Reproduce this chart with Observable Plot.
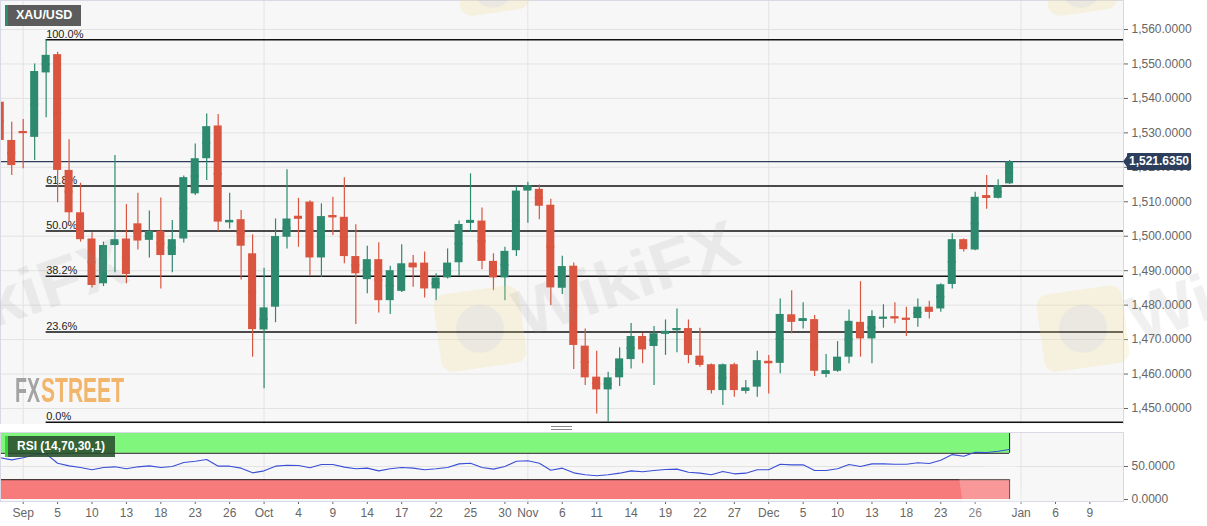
<!DOCTYPE html>
<html><head><meta charset="utf-8">
<script src="https://cdn.jsdelivr.net/npm/d3@7"></script>
<script src="https://cdn.jsdelivr.net/npm/@observablehq/plot@0.6"></script>
<style>
body{margin:0;background:#fff;font-family:"Liberation Sans",Arial,sans-serif;}
#wrap{position:relative;width:1207px;height:526px;overflow:hidden;background:#fff;}
#wrap > svg, #wrap > div{position:absolute;}
.lbl{color:#fff;font-weight:bold;font-size:12.5px;line-height:20px;white-space:nowrap;}
</style></head><body><div id="wrap"></div>
<script>
// ---------- DATA ----------
const startDate = "2019-08-29";
const endDate = "2019-12-31";
const open  = [1538.9,1527.8,1530.4,1528.7,1547.4,1552.7,1519.1,1506.8,1499.2,1486.2,1497.3,1499.2,1503.6,1498.8,1501.4,1494.4,1499.2,1512.3,1522.5,1532.0,1504.0,1504.8,1494.9,1472.8,1479.4,1499.7,1505.8,1509.9,1493.7,1506.0,1505.5,1494.1,1487.4,1493.2,1481.3,1484.0,1492.2,1492.2,1484.7,1487.9,1492.3,1503.8,1504.4,1492.7,1487.9,1495.8,1513.1,1513.6,1509.0,1484.9,1491.3,1468.1,1459.1,1455.4,1458.9,1464.2,1470.9,1468.0,1471.6,1472.8,1473.2,1465.2,1462.7,1455.2,1462.7,1455.0,1456.2,1463.7,1463.1,1477.2,1475.3,1475.8,1459.9,1460.8,1464.9,1475.0,1470.2,1476.1,1476.6,1476.2,1476.1,1479.4,1478.9,1486.0,1499.0,1496.0,1511.8,1511.0,1515.2];
const high  = [1550.5,1533.1,1533.9,1550.0,1557.0,1553.4,1528.0,1515.4,1501.0,1498.3,1523.4,1509.2,1512.5,1507.3,1511.1,1504.6,1517.5,1526.8,1535.5,1535.3,1512.5,1507.5,1500.4,1490.7,1505.0,1519.3,1511.0,1510.3,1509.4,1511.3,1517.0,1503.3,1497.1,1498.1,1491.3,1497.5,1494.4,1495.4,1489.1,1496.3,1504.4,1518.1,1508.2,1494.9,1496.8,1514.4,1515.7,1514.9,1510.7,1494.2,1492.2,1473.1,1466.6,1460.5,1467.6,1474.7,1471.8,1473.8,1475.7,1478.9,1475.7,1473.3,1462.9,1462.9,1463.1,1458.1,1466.6,1465.4,1481.8,1484.2,1480.7,1477.0,1465.7,1469.4,1478.6,1486.8,1478.4,1480.1,1480.7,1479.4,1481.8,1481.1,1486.2,1500.7,1499.2,1512.8,1517.6,1516.4,1522.0];
const low   = [1526.0,1517.6,1519.6,1522.0,1534.4,1509.7,1504.1,1498.3,1485.0,1485.4,1489.4,1486.2,1496.0,1493.7,1484.7,1489.4,1498.0,1511.8,1516.2,1501.4,1502.1,1487.3,1464.9,1455.7,1474.9,1496.3,1496.8,1488.6,1488.0,1500.2,1492.0,1474.4,1483.3,1477.7,1477.3,1483.7,1485.2,1482.1,1481.3,1487.6,1488.3,1501.2,1490.3,1484.2,1481.3,1494.1,1503.8,1504.8,1479.9,1483.1,1461.3,1456.7,1448.4,1446.0,1456.4,1461.5,1463.0,1456.7,1465.4,1466.2,1463.0,1462.0,1454.2,1450.9,1453.3,1454.2,1453.3,1454.2,1460.1,1471.7,1473.1,1459.3,1458.9,1460.5,1463.0,1464.9,1463.0,1473.3,1474.6,1470.9,1473.6,1476.0,1477.9,1484.7,1495.4,1495.8,1507.8,1510.8,1515.0];
const close = [1527.8,1520.5,1530.0,1547.8,1552.5,1519.1,1506.8,1499.0,1485.7,1497.3,1499.0,1488.9,1498.6,1501.4,1494.4,1499.0,1517.0,1522.5,1531.8,1504.1,1504.6,1497.1,1472.9,1479.2,1499.9,1505.0,1505.0,1493.7,1505.7,1505.5,1494.1,1489.1,1493.2,1481.3,1490.0,1492.0,1490.8,1484.7,1487.9,1492.2,1503.4,1504.6,1492.7,1487.9,1495.6,1513.1,1514.7,1508.7,1485.0,1491.2,1468.3,1458.9,1455.4,1458.9,1464.4,1470.9,1467.0,1471.7,1472.4,1473.2,1465.4,1462.5,1455.2,1462.7,1455.2,1456.0,1463.9,1463.1,1477.3,1475.0,1476.1,1460.8,1461.0,1464.9,1475.3,1470.2,1476.7,1476.5,1476.2,1475.8,1479.4,1477.9,1485.9,1499.0,1496.1,1511.3,1511.0,1514.7,1521.6];
const rsi   = [63.2,60.1,63.2,67.7,69.2,55,51,48.5,45,48.5,49.5,46.5,49.5,51,48.5,50,56,58,60.6,50.5,50.5,47.5,40.4,43.4,50.5,52,51.5,48,53,53,49,46.5,47.5,43.4,46.5,48.5,47.5,45,46.5,48.5,54,55,48.5,46,50,58,58.6,55,44.4,47.5,40.4,37.4,35.9,37.4,39.9,43.4,42,44,45.5,46,41.4,39.9,37.4,42.4,38.9,39.9,45,45,53.5,52.5,52.5,44,44,46.5,53,50,54,54,53.5,53.5,55.6,54.5,59.6,68,65.6,71.7,71.2,73.2,75.8];
const lastPrice = 1521.635;
const fibLow = 1446.0, fibHigh = 1557.0;
const fibPct = [0, 23.6, 38.2, 50, 61.8, 100];
const fibStartDate = "2019-09-04";
const priceTicks = [1450,1460,1470,1480,1490,1500,1510,1520,1530,1540,1550,1560];
const rsiTicks = [0, 50];
const rsiUpper = 70, rsiLower = 30;
const tickDates = ["2019-09-02","2019-09-05","2019-09-10","2019-09-13","2019-09-18","2019-09-23","2019-09-26","2019-10-01","2019-10-04","2019-10-09","2019-10-14","2019-10-17","2019-10-22","2019-10-25","2019-10-30","2019-11-01","2019-11-06","2019-11-11","2019-11-14","2019-11-19","2019-11-22","2019-11-27","2019-12-02","2019-12-05","2019-12-10","2019-12-13","2019-12-18","2019-12-23","2019-12-26","2020-01-01","2020-01-06","2020-01-09"];
const tickLabels = ["Sep","5","10","13","18","23","26","Oct","4","9","14","17","22","25","30","Nov","6","11","14","19","22","27","Dec","5","10","13","18","23","26","Jan","6","9"];
const monthLabels = ["Sep","Oct","Nov","Dec","Jan"];

// ---------- HELPERS ----------
function weekdaysBetween(a, b) {
  const out = []; let d = new Date(a + "T00:00:00Z"); const e = new Date(b + "T00:00:00Z");
  while (d <= e) { const w = d.getUTCDay(); if (w !== 0 && w !== 6) out.push(d.toISOString().slice(0,10)); d = new Date(d.getTime() + 864e5); }
  return out;
}
const tradingIndex = s => weekdaysBetween(startDate, s).length - 1;
const dates = weekdaysBetween(startDate, endDate);
const candles = dates.map((d, i) => ({date: d, i, open: open[i], high: high[i], low: low[i], close: close[i], rsi: rsi[i]}));
const GREEN = "#2d8a6f", RED = "#d9553f";
const col = d => d.close >= d.open ? GREEN : RED;
const tickIdx = tickDates.map(tradingIndex);
const labelByIdx = new Map(tickIdx.map((k, j) => [k, tickLabels[j]]));
const monthIdx = tickIdx.filter((k, j) => monthLabels.includes(tickLabels[j]));
const fibStart = tradingIndex(fibStartDate);
const fib = fibPct.map(p => ({price: fibLow + (fibHigh - fibLow) * p / 100, label: d3.format(".1f")(p) + "%"}));
const lastIdx = candles.length - 1;
const fmt = d3.format(",.4f");
const X0 = 0.021, X1 = 97.93;
const HW = 0.35;
const font = "Liberation Sans, Arial, sans-serif";

// ---------- MAIN PANE ----------
const main = Plot.plot({
  width: 1207, height: 424,
  marginLeft: 0, marginRight: 84, marginTop: 0, marginBottom: 0,
  x: {domain: [X0, X1], axis: null},
  y: {domain: [1450, 1560], range: [408, 29], axis: "right", ticks: priceTicks, tickFormat: fmt, tickSize: 4, tickPadding: 4, label: null},
  color: {type: "identity"},
  style: {background: "transparent", color: "#666", fontFamily: font, fontSize: "12px"},
  marks: [
    Plot.frame({fill: "#f7f7f7", stroke: null}),
    Plot.ruleY(priceTicks, {stroke: "#e3e3e3", clip: true}),
    Plot.ruleX(monthIdx, {stroke: "#e3e3e3", clip: true}),
    Plot.ruleY(fib, {x1: fibStart, x2: X1, y: "price", stroke: "#111", strokeWidth: 1.5}),
    Plot.text(fib, {x: fibStart, y: "price", text: "label", textAnchor: "start", lineAnchor: "bottom", dy: -2, fontSize: 11, fill: "#222"}),
    Plot.ruleY([lastPrice], {x1: X0, x2: X1, stroke: "#2c3e5a", strokeWidth: 1.2}),
    Plot.ruleX(candles, {x: "i", y1: "low", y2: "high", stroke: col, strokeWidth: 1.2, clip: true}),
    Plot.rect(candles, {x1: d => d.i - HW, x2: d => d.i + HW, y1: "open", y2: "close", fill: col, clip: true}),
    Plot.ruleY(candles, {x1: d => d.i - HW, x2: d => d.i + HW, y: d => (d.open + d.close) / 2, stroke: col, strokeWidth: 2, clip: true}),
    Plot.frame({stroke: "#d9d9e6"})
  ]
});
main.style.left = "0px"; main.style.top = "0px";

// ---------- RSI PANE ----------
const rsiPlot = Plot.plot({
  width: 1207, height: 100,
  marginLeft: 0, marginRight: 84, marginTop: 6, marginBottom: 25,
  x: {domain: [X0, X1], ticks: tickIdx, tickFormat: d => labelByIdx.get(d), tickSize: 3, tickPadding: 4, label: null},
  y: {domain: [0, 100], range: [73, 7], axis: "right", ticks: rsiTicks, tickFormat: fmt, tickSize: 4, tickPadding: 4, label: null},
  style: {background: "transparent", color: "#666", fontFamily: font, fontSize: "12px"},
  marks: [
    Plot.frame({fill: "#f7f7f7", stroke: null}),
    Plot.ruleY([50], {stroke: "#e3e3e3"}),
    Plot.ruleX(monthIdx, {stroke: "#e3e3e3", clip: true}),
    Plot.rect([0], {x1: X0, x2: lastIdx, y1: rsiUpper, y2: 100, fill: "#80f77c"}),
    Plot.rect([0], {x1: X0, x2: lastIdx, y1: 0, y2: rsiLower, fill: "#f87b7b"}),
    Plot.ruleY([rsiUpper, rsiLower], {x1: X0, x2: lastIdx, stroke: "#222"}),
    Plot.ruleX([lastIdx], {y1: rsiUpper, y2: 100, stroke: "#222"}),
    Plot.ruleX([lastIdx], {y1: 0, y2: rsiLower, stroke: "#222"}),
    Plot.line(candles, {x: "i", y: "rsi", stroke: "#3a4fd6", strokeWidth: 1.1, clip: true}),
    Plot.frame({stroke: "#d9d9e6"})
  ]
});
rsiPlot.style.left = "0px"; rsiPlot.style.top = "426px";

const wrap = document.getElementById("wrap");
wrap.appendChild(main);
wrap.appendChild(rsiPlot);

// ---------- OVERLAYS ----------
const ns = "http://www.w3.org/2000/svg";
const deco = document.createElementNS(ns, "svg");
deco.setAttribute("width", 1207); deco.setAttribute("height", 526);
deco.style.left = "0px"; deco.style.top = "0px"; deco.style.pointerEvents = "none";
deco.innerHTML = `
  <g opacity="0.22">
    <g transform="translate(432,296) rotate(-8)"><rect width="86" height="78" rx="12" fill="#f3dd8a"/><circle cx="43" cy="39" r="24" fill="#9a9a9a" opacity="0.6"/></g>
    <g transform="translate(1035,296) rotate(-8)"><rect width="86" height="78" rx="12" fill="#f3dd8a"/><circle cx="43" cy="39" r="24" fill="#9a9a9a" opacity="0.6"/></g>
    <g transform="translate(452,-52) rotate(-8)"><rect width="70" height="70" rx="12" fill="#f3dd8a"/><circle cx="35" cy="45" r="20" fill="#9a9a9a" opacity="0.6"/></g>
    <g transform="translate(1040,-52) rotate(-8)"><rect width="70" height="70" rx="12" fill="#f3dd8a"/><circle cx="35" cy="45" r="20" fill="#9a9a9a" opacity="0.6"/></g>
    <g transform="translate(958,470) rotate(-8)"><rect width="60" height="50" rx="10" fill="#ffffff"/></g>
  </g>
  <g font-family="Liberation Sans, Arial, sans-serif" font-weight="bold" font-size="66" fill="#8a8a8a" opacity="0.13">
    <text transform="translate(-88,356) rotate(-19)" textLength="232" lengthAdjust="spacingAndGlyphs">WikiFX</text>
    <text transform="translate(524,338) rotate(-19)" textLength="232" lengthAdjust="spacingAndGlyphs">WikiFX</text>
    <text transform="translate(1138,344) rotate(-19)" textLength="232" lengthAdjust="spacingAndGlyphs">WikiFX</text>
  </g>
  <g font-family="Liberation Sans Narrow, Liberation Sans, Arial, sans-serif" font-weight="bold" font-size="35">
    <text x="15" y="402" fill="#a3a3a3" textLength="25" lengthAdjust="spacingAndGlyphs">FX</text>
    <text x="41" y="402" fill="#f2b56c" textLength="83" lengthAdjust="spacingAndGlyphs">STREET</text>
  </g>
  <g fill="none" stroke="#888" stroke-width="1">
    <line x1="551" y1="426.5" x2="572" y2="426.5"/><line x1="551" y1="429.5" x2="572" y2="429.5"/>
  </g>
  <path d="M1123,161.5 L1127,156 L1127,167 Z" fill="#2c3e5c"/>
`;
wrap.appendChild(deco);

function box(html, css) { const d = document.createElement("div"); d.className = "lbl"; d.innerHTML = html; Object.assign(d.style, css); wrap.appendChild(d); return d; }
box("XAU/USD", {left: "5px", top: "5px", width: "73px", height: "21px", background: "#5c5c5c", borderLeft: "3px solid #2d8a6f", paddingLeft: "0px", textIndent: "8px", lineHeight: "21px"});
box("RSI (14,70,30,1)", {left: "5px", top: "436px", width: "107px", height: "21px", background: "rgba(40,78,44,0.88)", borderLeft: "3px solid #33d633", textIndent: "9px", lineHeight: "21px", fontSize: "12px"});
box(d3.format(",.4f")(lastPrice), {left: "1127px", top: "153px", width: "64px", height: "17px", background: "#2c3e5c", lineHeight: "17px", fontSize: "12px", textAlign: "center", borderRadius: "1px"});
</script></body></html>
